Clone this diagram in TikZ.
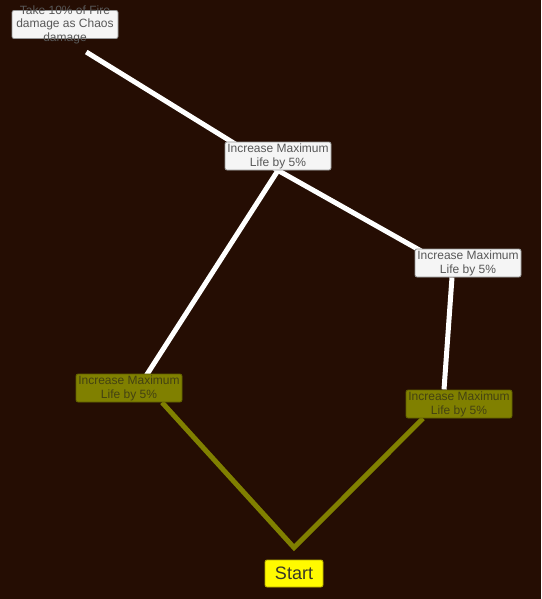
\documentclass[tikz,border=0pt]{standalone}
\usepackage{fontspec}
\setmainfont{Liberation Sans}
\usetikzlibrary{backgrounds}

\definecolor{bgbrown}{RGB}{37,13,3}
\definecolor{paleface}{RGB}{245,245,245}
\definecolor{paleedge}{RGB}{150,150,150}
\definecolor{greytext}{RGB}{88,88,88}
\definecolor{olivefill}{RGB}{128,128,0}
\definecolor{oliveedge}{RGB}{95,95,0}
\definecolor{olivetext}{RGB}{68,66,18}
\definecolor{startfill}{RGB}{255,250,0}
\definecolor{startedge}{RGB}{180,172,0}
\definecolor{starttext}{RGB}{55,55,40}

\tikzset{
  skillbox/.style={rectangle, rounded corners=2pt, minimum width=106pt,
    minimum height=28pt, inner sep=0pt, line width=0.8pt,
    font=\fontsize{12}{14}\selectfont, align=center},
  locked/.style={skillbox, draw=paleedge, fill=paleface, text=greytext},
  taken/.style={skillbox, draw=oliveedge, fill=olivefill, text=olivetext},
  skilltext/.style={font=\fontsize{12}{13.5}\selectfont, align=center,
    inner sep=0pt, text=greytext},
  startbox/.style={rectangle, rounded corners=2pt, minimum width=58pt,
    minimum height=27pt, inner sep=0pt, line width=0.8pt, fill=startfill,
    draw=startedge, text=starttext, font=\fontsize{18}{20}\selectfont},
  lockedlink/.style={draw=white, line width=5pt},
  takenlink/.style={draw=olivefill, line width=5pt, line join=miter},
}

\begin{document}
\begin{tikzpicture}[x=1pt,y=-1pt]
      % 'chaos'
      \node[locked] at (65,24.5) (tl) {};
      \node[skilltext] at (tl) (tltext) {Take 10\% of Fire\\damage as Chaos\\damage};

      % 'life'
      \node[locked] at (278,156) (m1) {Increase Maximum\\Life by 5\%};
      \node[locked] at (468,263) (R1) {Increase Maximum\\Life by 5\%};
      \node[taken] at (129,388) (L) {Increase Maximum\\Life by 5\%};
      \node[taken] at (459,404) (R2) {Increase Maximum\\Life by 5\%};

      % 'start'
      \node[startbox] at (294,573.5) (start) {Start};
      \coordinate (root) at ([yshift=12pt]start.north);

      \begin{scope}[on background layer]
        \fill[bgbrown] (0,0) rectangle (541,599);
        \draw[lockedlink, shorten >=25pt] (m1.south) -- (tl.south);
        \draw[lockedlink, shorten >=12pt] (m1.south) -- (L.south);
        \draw[lockedlink, shorten >=12pt] (m1.south) -- (R1.south);
        \draw[lockedlink] ([xshift=-16pt]R1.south) -- ([xshift=-15pt]R2.north);
        \draw[takenlink] ([xshift=33pt]L.south) -- (root) -- ([xshift=-36pt]R2.south);
      \end{scope}
    \end{tikzpicture}
\end{document}
